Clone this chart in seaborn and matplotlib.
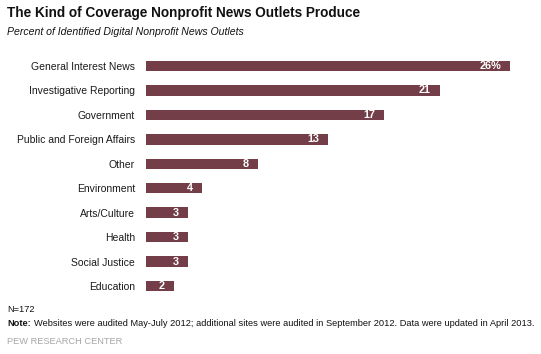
import pandas as pd
import matplotlib.pyplot as plt
import seaborn as sns

# Chart data
categories = ['General Interest News', 'Investigative Reporting', 'Government',
              'Public and Foreign Affairs', 'Other', 'Environment', 'Arts/Culture',
              'Health', 'Social Justice', 'Education']
shares = [26, 21, 17, 13, 8, 4, 3, 3, 3, 2]
value_labels = ['26%', '21', '17', '13', '8', '4', '3', '3', '3', '2']

df = pd.DataFrame({'category': categories, 'share': shares})

sns.set_style('white')
plt.rcParams['font.family'] = ['Liberation Sans', 'DejaVu Sans']

W, H = 541, 354
fig = plt.figure(figsize=(W / 100, H / 100), dpi=100)
# axes placed in pixel terms: x from 146px, y centers from 66 to 286
ax = fig.add_axes([146 / W, 1 - 298.2 / H, 392 / W, (298.2 - 53.8) / H])

bar_color = '#733E48'
sns.barplot(data=df, y='category', x='share', color=bar_color, orient='h',
            width=0.43, saturation=1, linewidth=0, ax=ax)

ax.set_xlim(0, 28)
ax.set_xlabel('')
ax.set_ylabel('')
ax.set_xticks([])
ax.tick_params(axis='y', length=0, pad=8, labelsize=7.5, labelcolor='#1a1a1a')
for s in ax.spines.values():
    s.set_visible(False)

# value labels inside bar ends
for i, (v, lab) in enumerate(zip(shares, value_labels)):
    ax.annotate(lab, xy=(v, i), xytext=(-6.5, 0), textcoords='offset points',
                ha='right', va='center', color='white', fontsize=7.8,
                fontweight='bold')

# titles
fig.text(7 / W, 1 - 13 / H, 'The Kind of Coverage Nonprofit News Outlets Produce',
         fontsize=9.8, fontweight='bold', ha='left', va='center', color='#111111')
fig.text(7 / W, 1 - 32 / H, 'Percent of Identified Digital Nonprofit News Outlets',
         fontsize=7.6, fontstyle='italic', ha='left', va='center', color='#111111')

# footer
fig.text(7 / W, 1 - 309 / H, 'N=172', fontsize=6.7, ha='left', va='center',
         color='#111111')
note = fig.text(7 / W, 1 - 324 / H, 'Note:', fontsize=6.7, fontweight='bold',
                ha='left', va='center', color='#111111')
fig.canvas.draw()
bb = note.get_window_extent(renderer=fig.canvas.get_renderer())
fig.text((bb.x1 + 3) / W, 1 - 324 / H,
         'Websites were audited May-July 2012; additional sites were audited in '
         'September 2012. Data were updated in April 2013.',
         fontsize=6.7, ha='left', va='center', color='#111111')
fig.text(7 / W, 1 - 342 / H, 'PEW RESEARCH CENTER', fontsize=6.7, ha='left',
         va='center', color='#A6A6A6')

fig.savefig('out.png', dpi=100)
